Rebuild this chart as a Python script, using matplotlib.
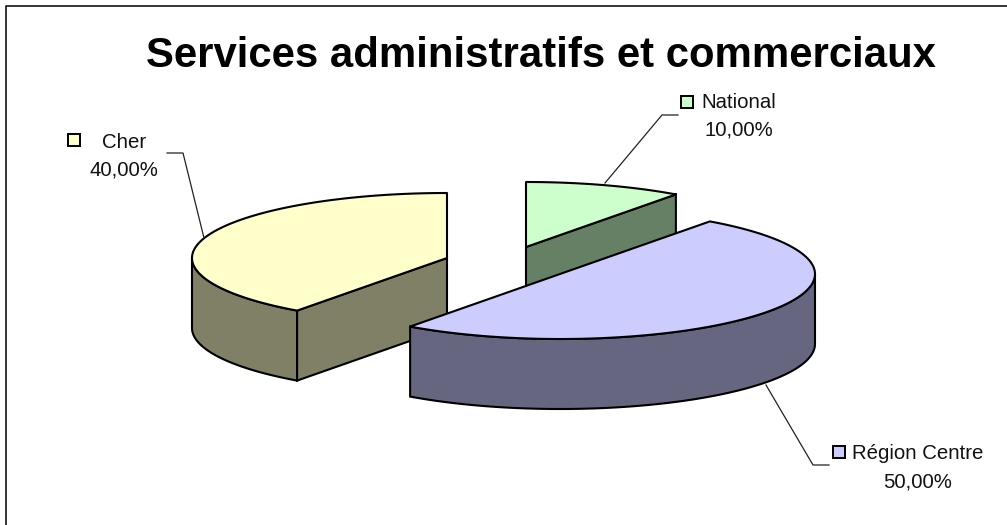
import numpy as np
import matplotlib
matplotlib.use("Agg")
import matplotlib.pyplot as plt
from matplotlib.patches import Polygon, Rectangle

title = "Services administratifs et commerciaux"
categories = ["National", "Région Centre", "Cher"]
shares = [10.0, 50.0, 40.0]
top_colors = ["#CCFFCC", "#CCCCFF", "#FFFFCC"]
side_colors = ["#668066", "#666680", "#808066"]

W, H = 1007, 525
A, B, DEPTH = 255, 65, 70
centers = {"National": (526, 247), "Région Centre": (560, 274), "Cher": (447, 258)}

fig = plt.figure(figsize=(W / 100, H / 100), dpi=100)
ax = fig.add_axes([0, 0, 1, 1])
ax.set_xlim(0, W)
ax.set_ylim(H, 0)
ax.axis("off")
ax.plot([6, 6, W], [H, 5.5, 5.5], color="black", lw=1.1, solid_capstyle="butt")

fractions = np.array(shares) / sum(shares)
stops = np.concatenate([[0], np.cumsum(fractions)]) * 2 * np.pi
LW = 1.5


def pt(c, t, dz=0):
    return np.column_stack([c[0] + A * np.sin(t), c[1] - B * np.cos(t) + dz])


def draw(name, t0, t1, col_top, col_side, zorder):
    c = centers[name]
    ts = np.linspace(t0, t1, 160)
    # outer rim: the part of the arc facing the viewer
    lo, hi = max(t0, np.pi / 2), min(t1, 3 * np.pi / 2)
    if hi > lo:
        tr = np.linspace(lo, hi, 120)
        rim = np.vstack([pt(c, tr), pt(c, tr[::-1], DEPTH)])
        ax.add_patch(Polygon(rim, closed=True, fc=col_side, ec="black", lw=LW, zorder=zorder))
    # cut walls that face the viewer
    for t in (t0, t1):
        p = pt(c, np.array([t]))[0]
        if fractions[categories.index(name)] < 0.5 and ((t == t1 and np.sin(t) > 0) or (t == t0 and np.sin(t) < 0)):
            q = [c, p, p + [0, DEPTH], np.array(c) + [0, DEPTH]]
            ax.add_patch(Polygon(q, closed=True, fc=col_side, ec="black", lw=LW, zorder=zorder))
    if fractions[categories.index(name)] >= 0.5:
        face = pt(c, ts)
    else:
        face = np.vstack([[c], pt(c, ts)])
    ax.add_patch(Polygon(face, closed=True, fc=col_top, ec="black", lw=LW, joinstyle="round", zorder=zorder + 0.1))


order = {"National": 1, "Cher": 2, "Région Centre": 3}
for i, name in enumerate(categories):
    draw(name, stops[i], stops[i + 1], top_colors[i], side_colors[i], order[name])

# leader lines
leaders = {
    "National": [(605, 183), (662, 115), (678, 115)],
    "Région Centre": [(766, 385), (813, 465), (829, 465)],
    "Cher": [(204, 238), (183, 153), (167, 153)],
}
for pts in leaders.values():
    xs, ys = zip(*pts)
    ax.plot(xs, ys, color="#222222", lw=0.9, zorder=5)

# labels: name anchor, value anchor (baselines), key centre
labels = {
    "National": ((739, 108), (739, 136), (687, 102)),
    "Région Centre": ((918, 459), (918, 487), (839, 452)),
    "Cher": ((124, 148), (124, 176), (74, 140)),
}
FONT = "Liberation Sans"
for i, name in enumerate(categories):
    (lx, ly), (vx, vy), (kx, ky) = labels[name]
    ax.text(lx, ly, name, ha="center", va="baseline", fontsize=14.7, family=FONT, color="#111111")
    ax.text(vx, vy, f"{shares[i]:.2f}%".replace(".", ","), ha="center", va="baseline",
            fontsize=14.7, family=FONT, color="#111111")
    ax.add_patch(Rectangle((kx - 6, ky - 6), 12, 12, fc=top_colors[i], ec="black", lw=1.4, zorder=6))

ax.text(541, 67, title, ha="center", va="baseline", fontsize=30.2, family=FONT, fontweight="bold", color="black")

fig.savefig("out.png", dpi=100)
